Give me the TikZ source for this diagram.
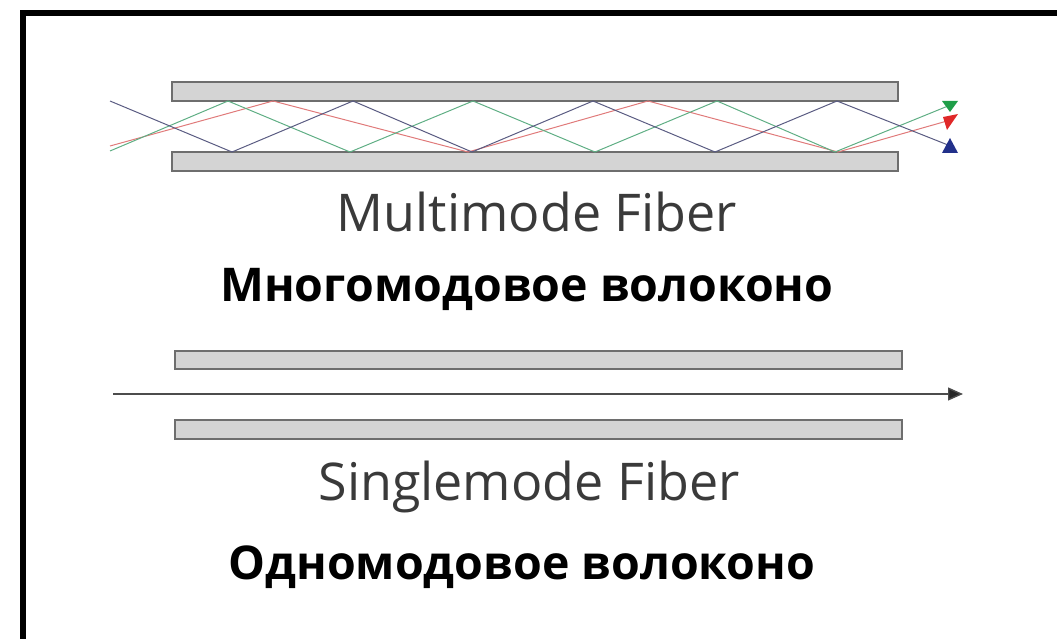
\documentclass[tikz,border=0pt]{standalone}
\usepackage{fontspec}
\setmainfont{Open Sans}
\usetikzlibrary{arrows.meta}
\definecolor{clad}{HTML}{D4D4D4}
\definecolor{cladline}{HTML}{6E6E6E}
\definecolor{rayblue}{HTML}{5A5C82}
\definecolor{raygreen}{HTML}{5FAE84}
\definecolor{rayred}{HTML}{E07A7A}
\definecolor{tipgreen}{HTML}{1E9E48}
\definecolor{tipred}{HTML}{E02828}
\definecolor{tipblue}{HTML}{22308A}
\definecolor{lighttext}{HTML}{3A3A3A}
\tikzset{
  cladding/.style={fill=clad, draw=cladline, line width=1.6pt},
  ray/.style={line width=1pt},
  entext/.style={anchor=base, text=lighttext, font=\fontsize{52}{60}\selectfont, inner sep=0pt},
  rutext/.style={anchor=base, text=black, font=\bfseries\fontsize{46.5}{55}\selectfont, inner sep=0pt},
}
\begin{document}
\begin{tikzpicture}[x=1pt,y=-1pt]
\useasboundingbox (0,0) rectangle (1057,639);
% frame
\draw[line width=6pt] (23,639) -- (23,13) -- (1057,13);
% multimode fiber
\draw[cladding] (172,82) rectangle (898,101);
\draw[cladding] (172,152) rectangle (898,171);
\draw[ray, rayred] (110,146) -- (273,101) -- (468,152) -- (648,101) -- (838,152) -- (947,121);
\draw[ray, raygreen] (110,151) -- (228,101) -- (350,152) -- (473,101) -- (595,152) -- (717,101) -- (835,152) -- (948,106);
\draw[ray, rayblue] (110,101) -- (232,152) -- (353,101) -- (472,152) -- (593,101) -- (715,152) -- (837,101) -- (948,145);
\fill[tipgreen] (942,101) -- (958,101) -- (950,112) -- cycle;
\fill[tipred] (943,117) -- (958,114) -- (947,130) -- cycle;
\fill[tipblue] (950,138) -- (958,153) -- (942,153) -- cycle;
\node[entext] (mmen) at (537,232) {Multimode Fiber};
\node[rutext] (mmru) at (527,301) {Многомодовое волоконо};
% singlemode fiber
\draw[cladding] (175,351) rectangle (902,369);
\draw[cladding] (175,420) rectangle (902,439);
\coordinate (smstart) at (113,394);
\coordinate (smend) at (963,394);
\draw[line width=1.4pt, draw=black!70, -{Triangle[length=15pt,width=13pt,fill=black!85]}] (smstart) -- (smend);
\node[entext] (smen) at (529,500) {Singlemode Fiber};
\node[rutext] (smru) at (522,579) {Одномодовое волоконо};
\end{tikzpicture}
\end{document}
